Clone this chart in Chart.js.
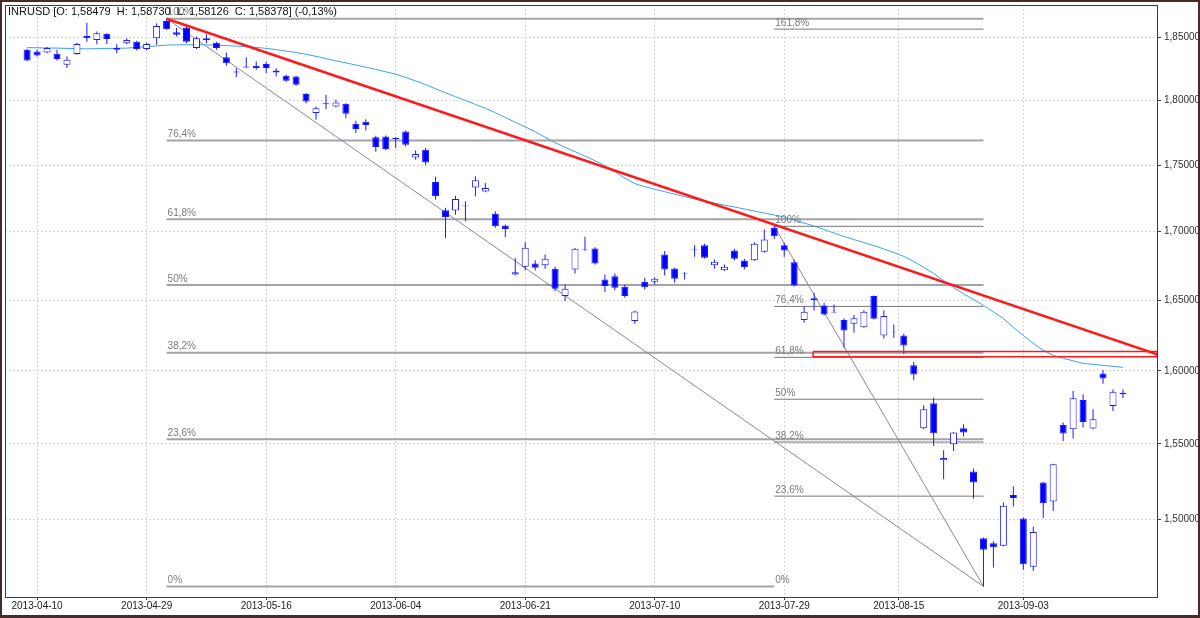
<!DOCTYPE html>
<html>
<head>
<meta charset="utf-8">
<script src="https://cdn.jsdelivr.net/npm/chart.js@4.4.0/dist/chart.umd.min.js"></script>
<style>
html, body { margin: 0; padding: 0; background: #fff; }
canvas { display: block; }
</style>
</head>
<body>
<canvas id="myChart" width="1200" height="618"></canvas>
<script>
const ctx = document.getElementById('myChart');

// x axis: bar number of each date label
const tickIndex = [1, 12, 24, 37, 50, 63, 76, 87.5, 100];
const tickLabels = ['2013-04-10', '2013-04-29', '2013-05-16', '2013-06-04', '2013-06-21',
    '2013-07-10', '2013-07-29', '2013-08-15', '2013-09-03'];
const priceTicks = [1.50, 1.55, 1.60, 1.65, 1.70, 1.75, 1.80, 1.85];

const opens = [1.8401, 1.8387, 1.8379, 1.8369, 1.8282, 1.8367, 1.8513, 1.8481, 1.8530, 1.8415,
    1.8454, 1.8467, 1.8407, 1.8495, 1.8634, 1.8543, 1.8581, 1.8415, 1.8481, 1.8459,
    1.8342, 1.8228, 1.8260, 1.8274, 1.8289, 1.8220, 1.8194, 1.8189, 1.8050, 1.7901,
    1.7971, 1.7953, 1.7974, 1.7818, 1.7834, 1.7713, 1.7720, 1.7700, 1.7759, 1.7559,
    1.7618, 1.7373, 1.7160, 1.7157, 1.7190, 1.7331, 1.7301, 1.7133, 1.7046, 1.6687,
    1.6743, 1.6767, 1.6754, 1.6728, 1.6530, 1.6723, 1.6864, 1.6876, 1.6650, 1.6674,
    1.6597, 1.6351, 1.6633, 1.6633, 1.6833, 1.6730, 1.6699, 1.6864, 1.6900, 1.6754,
    1.6718, 1.6862, 1.6789, 1.6791, 1.6852, 1.7030, 1.6900, 1.6776, 1.6358, 1.6501,
    1.6463, 1.6418, 1.6358, 1.6332, 1.6308, 1.6530, 1.6249, 1.6276, 1.6249, 1.6039,
    1.5606, 1.5776, 1.5390, 1.5497, 1.5606, 1.5315, 1.4875, 1.4844, 1.4827, 1.5159,
    1.5005, 1.4692, 1.5241, 1.5116, 1.5628, 1.5599, 1.5798, 1.5604, 1.5983, 1.5757,
    1.58479];
const highs = [1.8410, 1.8401, 1.8423, 1.8401, 1.8347, 1.8459, 1.8620, 1.8548, 1.8535, 1.8446,
    1.8495, 1.8475, 1.8459, 1.8615, 1.8652, 1.8576, 1.8589, 1.8508, 1.8527, 1.8467,
    1.8379, 1.8255, 1.8342, 1.8308, 1.8303, 1.8255, 1.8202, 1.8194, 1.8058, 1.7953,
    1.8044, 1.8005, 1.7979, 1.7841, 1.7854, 1.7726, 1.7728, 1.7716, 1.7767, 1.7613,
    1.7631, 1.7411, 1.7178, 1.7269, 1.7227, 1.7415, 1.7365, 1.7152, 1.7053, 1.6808,
    1.6922, 1.6791, 1.6833, 1.6745, 1.6614, 1.6880, 1.6962, 1.6886, 1.6686, 1.6694,
    1.6614, 1.6425, 1.6662, 1.6667, 1.6857, 1.6735, 1.6703, 1.6900, 1.6912, 1.6796,
    1.6759, 1.6874, 1.6801, 1.6922, 1.7016, 1.7040, 1.6916, 1.6796, 1.6453, 1.6554,
    1.6482, 1.6470, 1.6370, 1.6394, 1.6429, 1.6535, 1.6429, 1.6327, 1.6261, 1.6065,
    1.5762, 1.5815, 1.5457, 1.5581, 1.5633, 1.5335, 1.4880, 1.4857, 1.5109, 1.5217,
    1.5010, 1.4950, 1.5245, 1.5366, 1.5645, 1.5860, 1.5838, 1.5735, 1.6006, 1.5872,
    1.58730];
const lows = [1.8310, 1.8347, 1.8374, 1.8315, 1.8256, 1.8361, 1.8467, 1.8446, 1.8449, 1.8374,
    1.8446, 1.8395, 1.8395, 1.8441, 1.8562, 1.8508, 1.8454, 1.8407, 1.8454, 1.8401,
    1.8274, 1.8184, 1.8258, 1.8242, 1.8216, 1.8189, 1.8148, 1.8115, 1.7979, 1.7849,
    1.7932, 1.7945, 1.7862, 1.7747, 1.7767, 1.7603, 1.7613, 1.7631, 1.7643, 1.7542,
    1.7502, 1.7239, 1.6954, 1.7127, 1.7077, 1.7264, 1.7294, 1.7029, 1.6959, 1.6679,
    1.6718, 1.6716, 1.6728, 1.6566, 1.6494, 1.6694, 1.6860, 1.6759, 1.6559, 1.6573,
    1.6518, 1.6332, 1.6578, 1.6614, 1.6679, 1.6626, 1.6650, 1.6815, 1.6803, 1.6728,
    1.6711, 1.6791, 1.6723, 1.6784, 1.6845, 1.6947, 1.6815, 1.6600, 1.6339, 1.6427,
    1.6393, 1.6411, 1.6163, 1.6268, 1.6304, 1.6363, 1.6228, 1.6233, 1.6121, 1.5936,
    1.5599, 1.5486, 1.5263, 1.5452, 1.5549, 1.5136, 1.4567, 1.4688, 1.4823, 1.5083,
    1.4673, 1.4666, 1.5007, 1.5054, 1.5520, 1.5536, 1.5611, 1.5599, 1.5911, 1.5723,
    1.58126];
const closes = [1.8315, 1.8355, 1.8415, 1.8327, 1.8321, 1.8449, 1.8495, 1.8535, 1.8489, 1.8401,
    1.8481, 1.8407, 1.8449, 1.8594, 1.8567, 1.8522, 1.8467, 1.8495, 1.8495, 1.8415,
    1.8295, 1.8220, 1.8268, 1.8256, 1.8256, 1.8236, 1.8156, 1.8123, 1.7992, 1.7940,
    1.7979, 1.7984, 1.7896, 1.7777, 1.7808, 1.7639, 1.7623, 1.7708, 1.7656, 1.7585,
    1.7521, 1.7264, 1.7110, 1.7244, 1.7195, 1.7385, 1.7327, 1.7040, 1.7021, 1.6703,
    1.6881, 1.6735, 1.6801, 1.6583, 1.6583, 1.6874, 1.6869, 1.6767, 1.6602, 1.6590,
    1.6530, 1.6420, 1.6594, 1.6655, 1.6723, 1.6655, 1.6694, 1.6869, 1.6808, 1.6779,
    1.6743, 1.6801, 1.6740, 1.6912, 1.6942, 1.6966, 1.6862, 1.6607, 1.6418, 1.6515,
    1.6398, 1.6413, 1.6285, 1.6372, 1.6418, 1.6368, 1.6387, 1.6271, 1.6179, 1.5976,
    1.5735, 1.5572, 1.5405, 1.5576, 1.5576, 1.5241, 1.4801, 1.4817, 1.5087, 1.5138,
    1.4709, 1.4917, 1.5105, 1.5363, 1.5570, 1.5810, 1.5649, 1.5667, 1.5948, 1.5856,
    1.58378];
const movingAverage = [1.8419, 1.8418, 1.8416, 1.8415, 1.8413, 1.8411, 1.8409, 1.8411, 1.8412, 1.8414,
    1.8415, 1.8421, 1.8427, 1.8433, 1.8439, 1.8441, 1.8442, 1.8442, 1.8441, 1.8439,
    1.8435, 1.8431, 1.8427, 1.8421, 1.8413, 1.8403, 1.8391, 1.8380, 1.8365, 1.8349,
    1.8331, 1.8313, 1.8297, 1.8280, 1.8263, 1.8245, 1.8226, 1.8207, 1.8181, 1.8154,
    1.8125, 1.8092, 1.8060, 1.8030, 1.8000, 1.7969, 1.7939, 1.7904, 1.7867, 1.7830,
    1.7794, 1.7757, 1.7714, 1.7672, 1.7637, 1.7603, 1.7569, 1.7534, 1.7496, 1.7451,
    1.7401, 1.7360, 1.7337, 1.7318, 1.7299, 1.7280, 1.7262, 1.7243, 1.7228, 1.7213,
    1.7198, 1.7184, 1.7169, 1.7154, 1.7139, 1.7124, 1.7109, 1.7086, 1.7064, 1.7042,
    1.7016, 1.6990, 1.6964, 1.6942, 1.6920, 1.6898, 1.6873, 1.6847, 1.6818, 1.6781,
    1.6738, 1.6694, 1.6643, 1.6592, 1.6546, 1.6506, 1.6463, 1.6416, 1.6370, 1.6306,
    1.6249, 1.6193, 1.6144, 1.6109, 1.6088, 1.6071, 1.6053, 1.6046, 1.6039, 1.6032,
    1.6025];

// fibonacci levels (left: top of 04-30 to low of 08-28, right: 07-26 to low)
const fibLeftLabels = ['0%', '23,6%', '38,2%', '50%', '61,8%', '76,4%', '100%'];
const fibLeftPrices = [1.4567, 1.5531, 1.6128, 1.6610, 1.7092, 1.7688, 1.8652];
const fibRightLabels = ['0%', '23,6%', '38,2%', '50%', '61,8%', '76,4%', '100%', '161,8%'];
const fibRightPrices = [1.4567, 1.5151, 1.5512, 1.5804, 1.6095, 1.6456, 1.7040, 1.8568];

const header = 'INRUSD [O: 1,58479  H: 1,58730  L: 1,58126  C: 1,58378] (-0,13%)';

function line(points, color, width, order) {
    return {
        type: 'line',
        data: points,
        borderColor: color,
        borderWidth: width,
        pointRadius: 0,
        fill: false,
        tension: 0,
        order: order
    };
}

let datasets = [];

datasets.push({
    type: 'bar',
    data: opens.map((o, i) => ({x: i, y: [Math.min(o, closes[i]), Math.max(o, closes[i])]})),
    backgroundColor: opens.map((o, i) => closes[i] < o ? '#0000ff' : '#ffffff'),
    borderColor: '#1a1aff',
    borderWidth: 1,
    borderSkipped: false,
    barThickness: 7,
    grouped: false,
    inflateAmount: 0,
    order: 1
});
datasets.push({
    type: 'bar',
    data: lows.map((l, i) => ({x: i, y: [l, highs[i]]})),
    backgroundColor: '#1a1aff',
    borderWidth: 0,
    barThickness: 1,
    grouped: false,
    inflateAmount: 0,
    order: 2
});
datasets.push(line(movingAverage.map((v, i) => ({x: i, y: v})), '#3ea2ee', 1, 3));

// trend lines
datasets.push(line([{x: 14, y: 1.8652}, {x: 113.42, y: 1.6116}], '#ff1a1a', 2.5, 0));
datasets.push(line([{x: 78.9, y: 1.6136}, {x: 113.42, y: 1.6136}, {x: 113.42, y: 1.6099},
    {x: 78.9, y: 1.6099}, {x: 78.9, y: 1.6136}], '#ff1a1a', 1.5, 0));
datasets.push(line([{x: 14, y: 1.8652}, {x: 96, y: 1.4567}], '#8a8a96', 1, 4));
datasets.push(line([{x: 75, y: 1.7040}, {x: 96, y: 1.4567}], '#8a8a96', 1, 4));

fibLeftPrices.forEach((p, i) => {
    const end = i == 0 ? 75 : 96;
    datasets.push(line([{x: 14, y: p}, {x: end, y: p}], '#a4a4a8', 2, 5));
});
fibRightPrices.forEach((p, i) => {
    if (i == 0) return;
    datasets.push(line([{x: 75, y: p}, {x: 96, y: p}], '#76767e', 1, 5));
});

const decorations = {
    id: 'decorations',
    beforeDraw(chart) {
        const c = chart.ctx;
        c.save();
        c.fillStyle = '#ffffff';
        c.fillRect(0, 0, chart.width, chart.height);
        c.restore();
    },
    afterDatasetsDraw(chart) {
        const c = chart.ctx;
        const xs = chart.scales.x, ys = chart.scales.y;
        c.save();
        c.font = '10px "Liberation Sans", Arial, sans-serif';
        c.fillStyle = '#7a7a80';
        c.textBaseline = 'bottom';
        fibLeftPrices.forEach((p, i) => {
            c.fillText(fibLeftLabels[i], xs.getPixelForValue(14) + 1, ys.getPixelForValue(p) - 1);
        });
        fibRightPrices.forEach((p, i) => {
            c.fillText(fibRightLabels[i], xs.getPixelForValue(75) + 1, ys.getPixelForValue(p) - 1);
        });
        c.restore();
    },
    afterDraw(chart) {
        const c = chart.ctx;
        const a = chart.chartArea;
        c.save();
        c.strokeStyle = '#3c3c3c';
        c.lineWidth = 1;
        c.strokeRect(Math.round(a.left) + 0.5, Math.round(a.top) + 0.5,
            Math.round(a.right - a.left), Math.round(a.bottom - a.top));
        c.font = '11px "Liberation Sans", Arial, sans-serif';
        c.fillStyle = '#111';
        c.textBaseline = 'middle';
        c.fillText(header, 8, 12);
        c.strokeStyle = '#4a2a26';
        c.lineWidth = 2;
        c.strokeRect(1, 1, chart.width - 2, chart.height - 2);
        c.fillStyle = '#4a2a26';
        c.fillRect(0, chart.height - 3, chart.width, 3);
        c.restore();
    }
};

const myChart = new Chart(ctx, {
    type: 'bar',
    data: { datasets: datasets },
    plugins: [decorations],
    options: {
        responsive: false,
        animation: false,
        events: [],
        layout: { padding: { left: 5, top: 5, right: 0, bottom: 0 } },
        plugins: { legend: { display: false }, tooltip: { enabled: false } },
        scales: {
            x: {
                type: 'linear',
                min: -2.22,
                max: 113.42,
                offset: false,
                afterBuildTicks: s => { s.ticks = tickIndex.map(v => ({value: v})); },
                afterFit: s => {
                    s.height = 21;
                    s.paddingLeft = 0;
                    s.paddingRight = 0;
                },
                ticks: {
                    autoSkip: false,
                    maxRotation: 0,
                    padding: 0,
                    color: '#222',
                    font: { family: '"Liberation Sans", Arial, sans-serif', size: 10 },
                    callback: (v, i) => tickLabels[i]
                },
                grid: { color: '#d6d6de', tickColor: '#444', tickLength: 3, offset: false },
                border: { display: false, dash: [2, 2] }
            },
            y: {
                type: 'logarithmic',
                position: 'right',
                min: 1.4506,
                max: 1.8764,
                afterBuildTicks: s => { s.ticks = priceTicks.map(v => ({value: v})); },
                afterFit: s => {
                    s.width = 43;
                    s.paddingTop = 0;
                    s.paddingBottom = 0;
                },
                ticks: {
                    padding: 3,
                    color: '#333',
                    font: { family: '"Liberation Sans", Arial, sans-serif', size: 10 },
                    callback: v => Number(v).toFixed(5).replace('.', ',')
                },
                grid: { color: '#d6d6de', tickColor: '#444', tickLength: 4 },
                border: { display: false, dash: [2, 2] }
            }
        }
    }
});
</script>
</body>
</html>
